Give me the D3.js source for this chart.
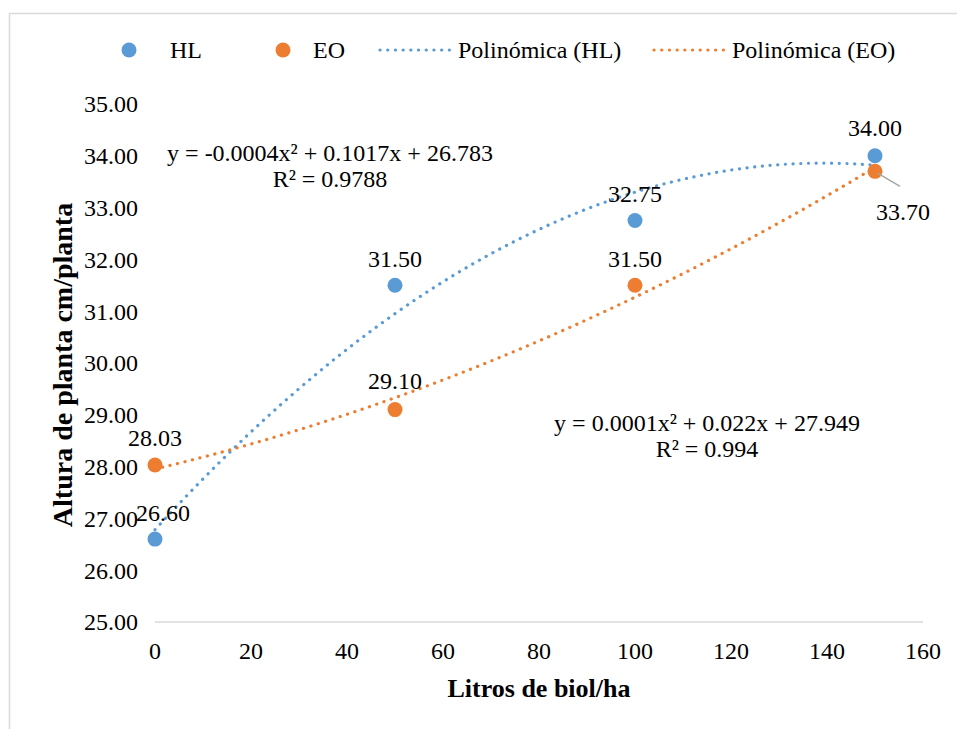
<!DOCTYPE html>
<html><head><meta charset="utf-8">
<script src="https://cdn.jsdelivr.net/npm/d3@7"></script>
<style>
body{margin:0;background:#fff;}
text{font-family:"Liberation Serif","Times New Roman","DejaVu Serif",serif;fill:#000;}
</style></head>
<body><svg id="c" width="957" height="729"></svg>
<script>
const xValues = [0, 50, 100, 150];
const hlValues = [26.60, 31.50, 32.75, 34.00];
const eoValues = [28.03, 29.10, 31.50, 33.70];
const seriesNames = ["HL", "EO"];
const trendNames = ["Polinómica (HL)", "Polinómica (EO)"];
const xTicks = [0, 20, 40, 60, 80, 100, 120, 140, 160];
const yTicks = [25, 26, 27, 28, 29, 30, 31, 32, 33, 34, 35];
const hlEquation = ["y = -0.0004x² + 0.1017x + 26.783", "R² = 0.9788"];
const eoEquation = ["y = 0.0001x² + 0.022x + 27.949", "R² = 0.994"];

const colors = {HL: "#5B9BD5", EO: "#ED7D31"};
const FONT = "'Liberation Serif','Times New Roman','DejaVu Serif',serif";
const svg = d3.select("#c");

// chart border
svg.append("rect").attr("x", 9.5).attr("y", 13.5).attr("width", 1000).attr("height", 1000)
  .attr("fill", "none").attr("stroke", "#d9d9d9").attr("stroke-width", 1.5);

const x = d3.scaleLinear().domain([0, 160]).range([155, 923]);
const y = d3.scaleLinear().domain([25, 35]).range([622, 104]);

// x axis line
svg.append("line").attr("x1", x(0)).attr("x2", x(160)).attr("y1", y(25)).attr("y2", y(25))
  .attr("stroke", "#d9d9d9").attr("stroke-width", 1.5);

// x tick labels
svg.selectAll(".xt").data(xTicks).join("text").attr("class", "xt")
  .attr("x", d => x(d)).attr("y", 659).attr("text-anchor", "middle")
  .attr("font-family", FONT).attr("font-size", 24).text(d => d);

// y tick labels
svg.selectAll(".yt").data(yTicks).join("text").attr("class", "yt")
  .attr("x", 138).attr("y", d => y(d)).attr("dy", "0.35em").attr("text-anchor", "end")
  .attr("font-family", FONT).attr("font-size", 24).text(d => d.toFixed(2));

// axis titles
svg.append("text").attr("x", x(80)).attr("y", 697).attr("text-anchor", "middle")
  .attr("font-family", FONT).attr("font-size", 26).attr("font-weight", "bold").text("Litros de biol/ha");
svg.append("text").attr("transform", "translate(72,365) rotate(-90)").attr("text-anchor", "middle")
  .attr("font-family", FONT).attr("font-size", 28).attr("font-weight", "bold").text("Altura de planta cm/planta");

// quadratic least squares fit
function quadFit(xs, ys) {
  let S = [[0,0,0],[0,0,0],[0,0,0]], b = [0,0,0];
  xs.forEach((xi, i) => {
    const p = [1, xi, xi*xi];
    for (let r = 0; r < 3; r++) { b[r] += p[r]*ys[i]; for (let c = 0; c < 3; c++) S[r][c] += p[r]*p[c]; }
  });
  const A = S.map((row, i) => row.concat([b[i]]));
  for (let i = 0; i < 3; i++) {
    for (let k = i+1; k < 3; k++) {
      const f = A[k][i]/A[i][i];
      for (let j = i; j < 4; j++) A[k][j] -= f*A[i][j];
    }
  }
  const s = [0,0,0];
  for (let i = 2; i >= 0; i--) {
    let v = A[i][3];
    for (let j = i+1; j < 3; j++) v -= A[i][j]*s[j];
    s[i] = v/A[i][i];
  }
  return s;
}
const line = d3.line().x(d => x(d[0])).y(d => y(d[1]));
[[hlValues, "HL"], [eoValues, "EO"]].forEach(([vals, key]) => {
  const c = quadFit(xValues, vals);
  const pts = d3.range(0, 150.01, 1).map(t => [t, c[0] + c[1]*t + c[2]*t*t]);
  svg.append("path").attr("d", line(pts)).attr("fill", "none")
    .attr("stroke", colors[key]).attr("stroke-width", 3.2)
    .attr("stroke-linecap", "round").attr("stroke-dasharray", "0.1,7.6");
});

// points
const hlData = xValues.map((v, i) => ({x: v, y: hlValues[i], k: "HL"}));
const eoData = xValues.map((v, i) => ({x: v, y: eoValues[i], k: "EO"}));
[hlData, eoData].forEach(data => {
  svg.selectAll(null).data(data).join("circle")
    .attr("cx", d => x(d.x)).attr("cy", d => y(d.y)).attr("r", 7.5)
    .attr("fill", d => colors[d.k]);
});

// data labels
const hlLabelOff = [[8, -27], [0, -27], [0, -27], [0, -28]];
const eoLabelOff = [[0, -27], [0, -29], [0, -27], [28, 40]];
svg.selectAll(".hl").data(hlData).join("text").attr("class", "hl")
  .attr("x", (d, i) => x(d.x) + hlLabelOff[i][0]).attr("y", (d, i) => y(d.y) + hlLabelOff[i][1])
  .attr("dy", "0.35em").attr("text-anchor", "middle").attr("font-family", FONT).attr("font-size", 24).text(d => d.y.toFixed(2));
svg.selectAll(".eo").data(eoData).join("text").attr("class", "eo")
  .attr("x", (d, i) => x(d.x) + eoLabelOff[i][0]).attr("y", (d, i) => y(d.y) + eoLabelOff[i][1])
  .attr("dy", "0.35em").attr("text-anchor", "middle").attr("font-family", FONT).attr("font-size", 24).text(d => d.y.toFixed(2));
// leader line for last EO label
const last = eoData[3];
svg.append("line").attr("x1", x(last.x) + 3).attr("y1", y(last.y) + 2)
  .attr("x2", x(last.x) + 25).attr("y2", y(last.y) + 15)
  .attr("stroke", "#a6a6a6").attr("stroke-width", 1.5);

// equations
function eq(lines, cx, cy) {
  lines.forEach((t, i) => svg.append("text").attr("x", cx).attr("y", cy + i*26)
    .attr("dy", "0.35em").attr("text-anchor", "middle").attr("font-family", FONT).attr("font-size", 24).text(t));
}
eq(hlEquation, 330, 153);
eq(eoEquation, 707, 423);

// legend
const lg = svg.append("g");
const lgY = 50;
lg.append("circle").attr("cx", 129).attr("cy", lgY).attr("r", 7.5).attr("fill", colors.HL);
lg.append("text").attr("x", 170).attr("y", lgY).attr("dy", "0.35em").attr("font-family", FONT).attr("font-size", 24).text(seriesNames[0]);
lg.append("circle").attr("cx", 283).attr("cy", lgY).attr("r", 7.5).attr("fill", colors.EO);
lg.append("text").attr("x", 313).attr("y", lgY).attr("dy", "0.35em").attr("font-family", FONT).attr("font-size", 24).text(seriesNames[1]);
[[380, 452, colors.HL, 458, trendNames[0]], [654, 726, colors.EO, 732, trendNames[1]]].forEach(([a, b, col, tx, t]) => {
  lg.append("line").attr("x1", a).attr("x2", b).attr("y1", lgY).attr("y2", lgY)
    .attr("stroke", col).attr("stroke-width", 3.2).attr("stroke-linecap", "round").attr("stroke-dasharray", "0.1,7.6");
  lg.append("text").attr("x", tx).attr("y", lgY).attr("dy", "0.35em").attr("font-family", FONT).attr("font-size", 24).text(t);
});
</script></body></html>
